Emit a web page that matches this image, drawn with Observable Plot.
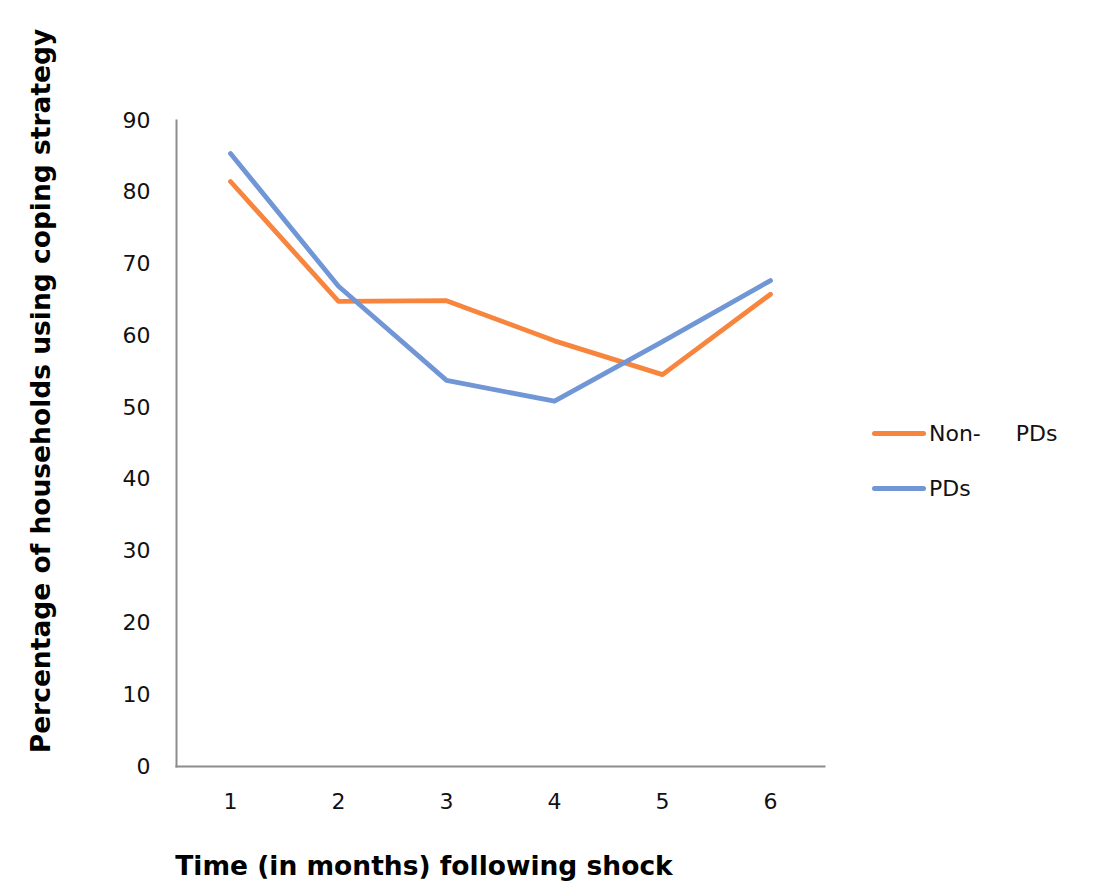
<!DOCTYPE html>
<html><head><meta charset="utf-8">
<script src="https://cdn.jsdelivr.net/npm/d3@7"></script>
<script src="https://cdn.jsdelivr.net/npm/@observablehq/plot@0.6"></script>
<style>
body{margin:0;background:#fff;}
#wrap{position:relative;width:1094px;height:882px;font-family:"DejaVu Sans",sans-serif;}
#wrap svg{position:absolute;left:0;top:0;}
.ttl{position:absolute;font-family:"DejaVu Sans",sans-serif;font-weight:bold;font-size:26.5px;color:#000;white-space:nowrap;}
#ylab{left:40px;top:391px;transform:translate(-50%,-50%) rotate(-90deg);}
#xlab{left:424px;top:865px;transform:translate(-50%,-50%);}
.leg{position:absolute;left:872px;display:flex;align-items:center;font-size:22px;white-space:pre;color:#111;}
.leg span.sw{display:inline-block;width:54px;height:5px;border-radius:3px;margin-right:3px;}
</style></head><body><div id="wrap"></div>
<script>
const months = [1, 2, 3, 4, 5, 6];
const nonPDs = [81.5, 64.8, 64.9, 59.3, 54.6, 65.8];
const pds = [85.4, 66.9, 53.8, 50.9, 59.2, 67.7];
const yTicks = [0, 10, 20, 30, 40, 50, 60, 70, 80, 90];
const seriesNames = ["Non-     PDs", "PDs"];
const seriesColors = ["#F7853E", "#7096D6"];
const yTitle = "Percentage of households using coping strategy";
const xTitle = "Time (in months) following shock";

const rows = [];
months.forEach((m, i) => {
  rows.push({month: m, value: nonPDs[i], series: seriesNames[0]});
});
months.forEach((m, i) => {
  rows.push({month: m, value: pds[i], series: seriesNames[1]});
});

const chart = Plot.plot({
  width: 1094, height: 882,
  marginLeft: 176, marginRight: 270, marginTop: 120, marginBottom: 116,
  x: {type: "point", domain: months, padding: 0.5},
  y: {domain: [0, 90]},
  color: {domain: seriesNames, range: seriesColors},
  style: {fontSize: "22px", fontFamily: "'DejaVu Sans', sans-serif", color: "#111", background: "white"},
  marks: [
    Plot.axisY({ticks: yTicks, tickSize: 0, tickPadding: 26, label: null}),
    Plot.axisX({tickSize: 0, tickPadding: 27, label: null}),
    Plot.frame({anchor: "left", stroke: "#8c8c8c", strokeWidth: 2}),
    Plot.frame({anchor: "bottom", stroke: "#8c8c8c", strokeWidth: 2}),
    Plot.lineY(rows, {x: "month", y: "value", stroke: "series", z: "series", strokeWidth: 4.8, strokeLinecap: "round", strokeLinejoin: "round"})
  ]
});
const wrap = document.getElementById("wrap");
wrap.appendChild(chart);

const yl = document.createElement("div"); yl.className = "ttl"; yl.id = "ylab"; yl.textContent = yTitle; wrap.appendChild(yl);
const xl = document.createElement("div"); xl.className = "ttl"; xl.id = "xlab"; xl.textContent = xTitle; wrap.appendChild(xl);
const legTops = [433, 488];
seriesNames.forEach((n, i) => {
  const d = document.createElement("div");
  d.className = "leg";
  d.style.top = (legTops[i] - 16) + "px";
  d.style.height = "32px";
  const sw = document.createElement("span"); sw.className = "sw"; sw.style.background = seriesColors[i];
  d.appendChild(sw);
  d.appendChild(document.createTextNode(n));
  wrap.appendChild(d);
});
</script>
</body></html>
